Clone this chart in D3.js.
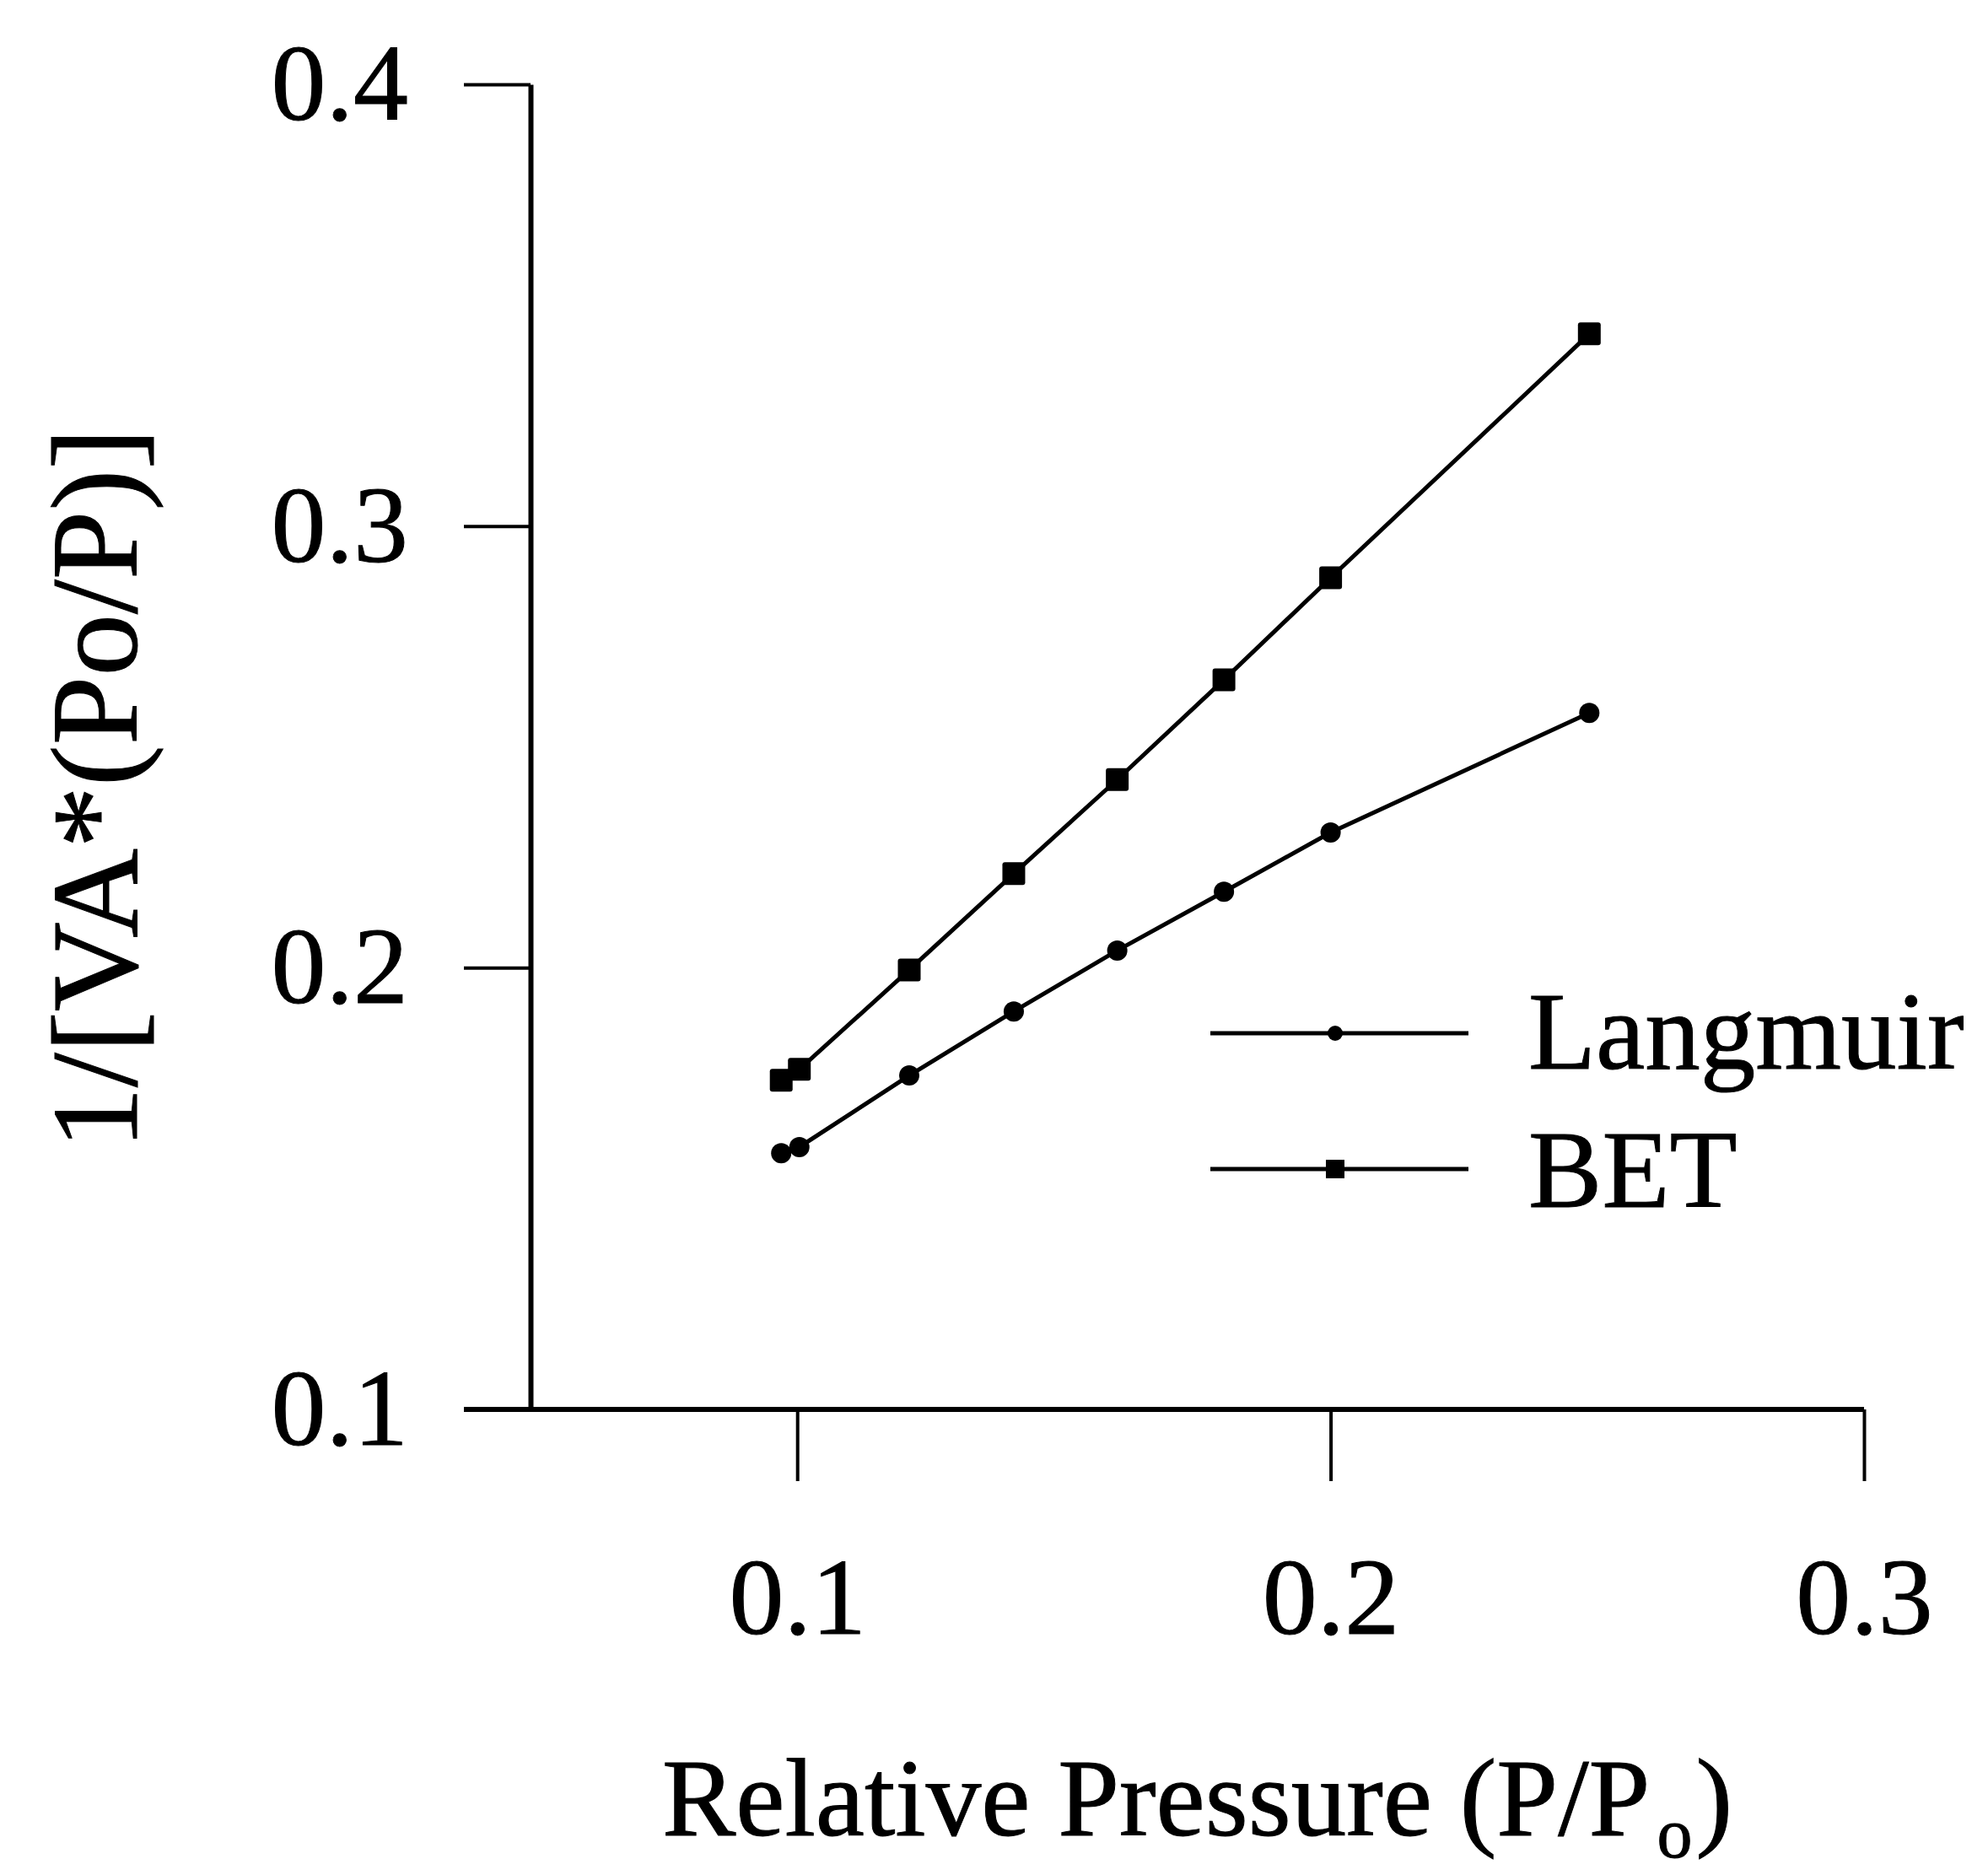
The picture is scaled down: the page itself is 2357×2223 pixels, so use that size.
<!DOCTYPE html>
<html>
<head>
<meta charset="utf-8">
<script src="https://cdn.jsdelivr.net/npm/d3@7/dist/d3.min.js"></script>
<style>
  html, body { margin: 0; padding: 0; background: #fff; }
  svg { display: block; }
  text { font-family: "Liberation Serif", "Times New Roman", Times, serif; fill: #000; stroke: #000; stroke-width: 1; }
</style>
</head>
<body>
<svg id="chart" width="2357" height="2223"></svg>
<script>
// Relative pressure values (P/Po) for each measurement
const pressure = [0.097, 0.1004, 0.121, 0.1406, 0.160, 0.180, 0.200, 0.2485];
// Linearised isotherm values 1/[VA*(Po/P)]
const langmuir = [0.1580, 0.1594, 0.1756, 0.1901, 0.2039, 0.2172, 0.2306, 0.2577];
const bet      = [0.1745, 0.1770, 0.1995, 0.2213, 0.2426, 0.2652, 0.2883, 0.3435];
const seriesNames = ["Langmuir", "BET"];
const xTicks = [0.1, 0.2, 0.3];
const yTicks = [0.1, 0.2, 0.3, 0.4];

const svg = d3.select("#chart");
const ink = "#000";

const x = d3.scaleLinear().domain([0.05, 0.3]).range([629, 2210]);
const y = d3.scaleLinear().domain([0.1, 0.4]).range([1671, 100]);

const yTickLen = 79;
const xTickLen = 85;
const fmt = d3.format(".1f");

// Y axis
const gy = svg.append("g")
  .attr("transform", `translate(${x(0.05)},0)`)
  .call(d3.axisLeft(y).tickValues(yTicks).tickSize(yTickLen).tickSizeOuter(0)
        .tickPadding(66).tickFormat(fmt));
gy.select(".domain").attr("stroke", ink).attr("stroke-width", 6);
gy.selectAll(".tick line").attr("stroke", ink).attr("stroke-width", 4);
gy.selectAll(".tick text").attr("font-size", 130)
  .style("font-family", '"Liberation Serif", "Times New Roman", serif');

// X axis
const gx = svg.append("g")
  .attr("transform", `translate(0,${y(0.1)})`)
  .call(d3.axisBottom(x).tickValues(xTicks).tickSize(xTickLen).tickSizeOuter(0)
        .tickPadding(89).tickFormat(fmt));
gx.select(".domain").remove();
gx.append("line")
  .attr("x1", x(0.05) - yTickLen).attr("x2", x(0.3))
  .attr("y1", 0).attr("y2", 0)
  .attr("stroke", ink).attr("stroke-width", 6);
gx.selectAll(".tick line").attr("stroke", ink).attr("stroke-width", 4);
gx.selectAll(".tick text").attr("font-size", 130)
  .style("font-family", '"Liberation Serif", "Times New Roman", serif');

// Series lines and markers
const line = d3.line().x(d => x(d[0])).y(d => y(d[1]));
const langPts = pressure.map((p, i) => [p, langmuir[i]]);
const betPts  = pressure.map((p, i) => [p, bet[i]]);

svg.append("path").datum(langPts).attr("d", line)
  .attr("fill", "none").attr("stroke", ink).attr("stroke-width", 5);
svg.append("path").datum(betPts).attr("d", line)
  .attr("fill", "none").attr("stroke", ink).attr("stroke-width", 5);

const sq = 27;
svg.append("g").selectAll("rect").data(betPts).join("rect")
  .attr("x", d => x(d[0]) - sq / 2).attr("y", d => y(d[1]) - sq / 2)
  .attr("width", sq).attr("height", sq).attr("rx", 3).attr("fill", ink);
svg.append("g").selectAll("circle").data(langPts).join("circle")
  .attr("cx", d => x(d[0])).attr("cy", d => y(d[1])).attr("r", 12).attr("fill", ink);

// Legend
const legend = svg.append("g");
const legRows = [
  { name: seriesNames[0], ly: 1225, ty: 1267, shape: "circle" },
  { name: seriesNames[1], ly: 1386, ty: 1431, shape: "square" }
];
legRows.forEach(r => {
  legend.append("line").attr("x1", 1435).attr("x2", 1741)
    .attr("y1", r.ly).attr("y2", r.ly).attr("stroke", ink).attr("stroke-width", 5);
  if (r.shape === "circle") {
    legend.append("circle").attr("cx", 1583).attr("cy", r.ly).attr("r", 9).attr("fill", ink);
  } else {
    legend.append("rect").attr("x", 1583 - 11).attr("y", r.ly - 11)
      .attr("width", 22).attr("height", 22).attr("fill", ink);
  }
  legend.append("text").attr("x", 1812).attr("y", r.ty)
    .attr("font-size", 131).text(r.name);
});

// Axis titles
const xt = svg.append("text")
  .attr("x", (x(0.05) + x(0.3)) / 2).attr("y", 2176)
  .attr("text-anchor", "middle").attr("font-size", 131);
xt.append("tspan").text("Relative Pressure (P/P");
xt.append("tspan").attr("font-size", 84).attr("dy", 26).attr("dx", 8).text("o");
xt.append("tspan").attr("dy", -26).attr("dx", 4).text(")");

svg.append("text")
  .attr("transform", "translate(162,935) rotate(-90)")
  .attr("text-anchor", "middle").attr("font-size", 147)
  .text("1/[VA*(Po/P)]");
</script>
</body>
</html>
